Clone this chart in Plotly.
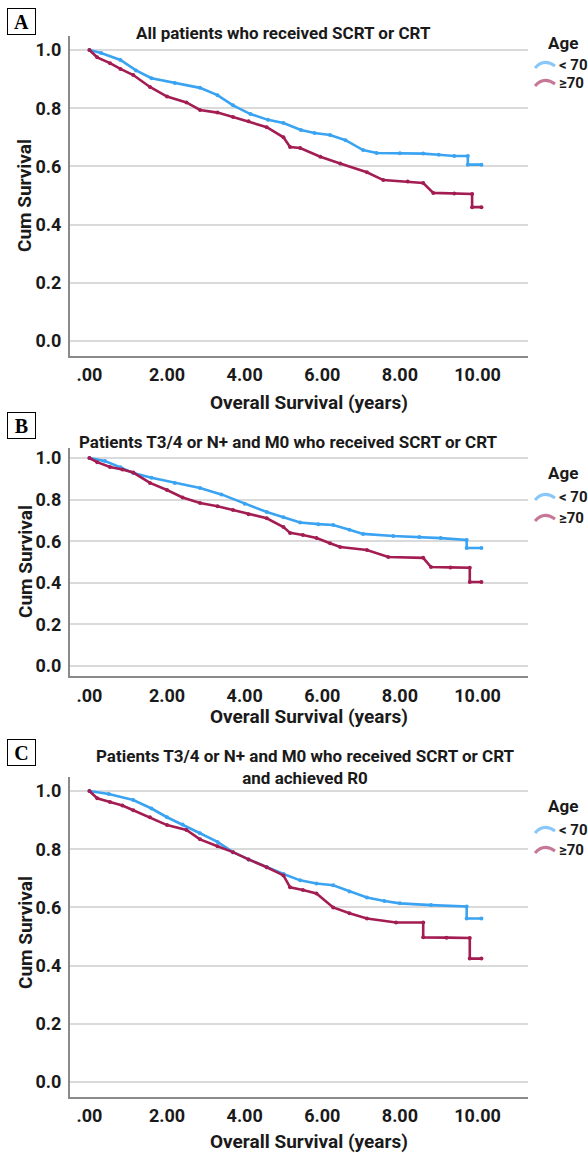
import plotly.graph_objects as go

# ---------------- data ----------------
years_tick_vals = [0, 2, 4, 6, 8, 10]
years_tick_text = [".00", "2.00", "4.00", "6.00", "8.00", "10.00"]
surv_tick_vals = [0.0, 0.2, 0.4, 0.6, 0.8, 1.0]
surv_tick_text = ["0.0", "0.2", "0.4", "0.6", "0.8", "1.0"]
group_names = ["< 70", "\u226570"]
panel_letters = ["A", "B", "C"]
panel_titles = [
    "All patients who received SCRT or CRT",
    "Patients T3/4 or N+ and M0 who received SCRT or CRT",
    "Patients T3/4 or N+ and M0 who received SCRT or CRT<br>and achieved R0",
]

# Panel A
a_young_t = [0, 0.3, 0.8, 1.2, 1.6, 2.2, 2.85, 3.3, 3.7, 4.15, 4.6, 5.0, 5.45, 5.8, 6.2, 6.6, 7.05, 7.4, 8.0, 8.6, 9.0, 9.4, 9.75, 9.75, 10.1]
a_young_s = [1.0, 0.99, 0.966, 0.93, 0.903, 0.887, 0.87, 0.845, 0.81, 0.78, 0.76, 0.749, 0.725, 0.715, 0.708, 0.69, 0.656, 0.646, 0.645, 0.644, 0.64, 0.636, 0.636, 0.606, 0.606]
a_old_t = [0, 0.2, 0.53, 0.8, 1.13, 1.56, 2.0, 2.5, 2.85, 3.3, 3.7, 4.1, 4.57, 5.0, 5.17, 5.43, 5.95, 6.46, 7.15, 7.57, 8.2, 8.6, 8.86, 9.4, 9.86, 9.86, 10.1]
a_old_s = [1.0, 0.975, 0.955, 0.935, 0.914, 0.873, 0.84, 0.82, 0.794, 0.785, 0.77, 0.755, 0.735, 0.70, 0.667, 0.663, 0.633, 0.61, 0.58, 0.553, 0.548, 0.543, 0.509, 0.507, 0.505, 0.46, 0.46]

# Panel B
b_young_t = [0, 0.4, 0.8, 1.13, 1.6, 2.2, 2.85, 3.4, 4.0, 4.57, 5.0, 5.43, 5.9, 6.28, 6.7, 7.05, 7.83, 8.5, 9.05, 9.72, 9.72, 10.1]
b_young_s = [1.0, 0.985, 0.955, 0.928, 0.905, 0.88, 0.856, 0.825, 0.78, 0.74, 0.715, 0.69, 0.682, 0.678, 0.655, 0.635, 0.625, 0.62, 0.615, 0.606, 0.567, 0.567]
b_old_t = [0, 0.2, 0.53, 0.85, 1.13, 1.56, 2.0, 2.4, 2.85, 3.3, 3.7, 4.1, 4.57, 5.0, 5.17, 5.5, 5.85, 6.2, 6.46, 7.15, 7.7, 8.6, 8.8, 9.3, 9.8, 9.8, 10.1]
b_old_s = [1.0, 0.98, 0.957, 0.945, 0.93, 0.88, 0.846, 0.81, 0.784, 0.768, 0.75, 0.73, 0.71, 0.668, 0.64, 0.63, 0.615, 0.59, 0.572, 0.558, 0.524, 0.52, 0.476, 0.474, 0.472, 0.404, 0.404]

# Panel C
c_young_t = [0, 0.5, 1.13, 1.6, 2.0, 2.4, 2.85, 3.3, 3.7, 4.1, 4.57, 5.0, 5.43, 5.85, 6.28, 6.7, 7.15, 7.6, 8.0, 8.8, 9.72, 9.72, 10.1]
c_young_s = [1.0, 0.99, 0.969, 0.94, 0.91, 0.885, 0.855, 0.825, 0.79, 0.765, 0.738, 0.715, 0.693, 0.682, 0.676, 0.655, 0.634, 0.622, 0.614, 0.608, 0.603, 0.562, 0.562]
c_old_t = [0, 0.2, 0.53, 0.85, 1.13, 1.56, 2.0, 2.5, 2.85, 3.3, 3.7, 4.1, 4.57, 5.0, 5.17, 5.5, 5.85, 6.28, 6.7, 7.15, 7.9, 8.6, 8.6, 9.2, 9.8, 9.8, 10.1]
c_old_s = [1.0, 0.975, 0.962, 0.95, 0.934, 0.91, 0.883, 0.866, 0.834, 0.81, 0.79, 0.765, 0.738, 0.71, 0.669, 0.66, 0.648, 0.60, 0.58, 0.562, 0.548, 0.548, 0.497, 0.496, 0.495, 0.424, 0.424]

# ---------------- styling / layout ----------------
W, H = 588, 1153
FONT = "Roboto, Liberation Sans, sans-serif"
SERIF = "Liberation Serif, DejaVu Serif, serif"
BLUE = "#3aa3f2"
RED = "#a31d52"
TXT = "#1a1a1a"


def pxx(p):
    return p / W


def pyy(p):
    return 1 - p / H


panels_px = [(35.5, 355.5), (447.6, 676.4), (776.5, 1096.5)]
x_left_px, x_right_px = 70, 528

curves = [
    ((a_young_t, a_young_s), (a_old_t, a_old_s)),
    ((b_young_t, b_young_s), (b_old_t, b_old_s)),
    ((c_young_t, c_young_s), (c_old_t, c_old_s)),
]

fig = go.Figure()
layout = dict(
    width=W, height=H, margin=dict(l=0, r=0, t=0, b=0),
    paper_bgcolor="white", plot_bgcolor="white", showlegend=False,
    annotations=[], shapes=[],
)

for i, ((yt, ys), (ot, os_)) in enumerate(curves):
    n = "" if i == 0 else str(i + 1)
    xa, ya = "x" + n, "y" + n
    for (t, s), col, name in (((yt, ys), BLUE, group_names[0]), ((ot, os_), RED, group_names[1])):
        fig.add_trace(go.Scatter(
            x=t, y=s, mode="lines+markers", name=name, xaxis=xa, yaxis=ya,
            line=dict(color=col, width=2.6),
            marker=dict(color=col, size=4, symbol="circle"),
        ))
    top, bot = panels_px[i]
    layout["xaxis" + n] = dict(
        domain=[pxx(x_left_px), pxx(x_right_px)], anchor=ya, range=[-0.5, 11.3],
        tickvals=years_tick_vals, ticktext=years_tick_text, showgrid=False,
        showline=True, linecolor="#8a8a8a", linewidth=2, zeroline=False,
        ticks="", ticklabelstandoff=2,
        tickfont=dict(family=FONT, size=18, color=TXT, weight="bold"),
    )
    layout["yaxis" + n] = dict(
        domain=[pyy(bot), pyy(top)], anchor=xa, range=[-0.05, 1.05],
        tickvals=surv_tick_vals, ticktext=surv_tick_text, showgrid=True,
        gridcolor="#dadada", gridwidth=1.5, showline=True, linecolor="#8a8a8a",
        linewidth=2, zeroline=False, ticks="", ticklabelstandoff=3,
        tickfont=dict(family=FONT, size=18, color=TXT, weight="bold"),
    )

# panel letters
for letter, yc in zip(panel_letters, [21.5, 425, 752]):
    layout["annotations"].append(dict(
        text="<b>" + letter + "</b>", x=pxx(21.5), y=pyy(yc), xref="paper", yref="paper",
        xanchor="center", yanchor="middle", showarrow=False,
        font=dict(family=SERIF, size=20, color="black"),
        bordercolor="black", borderwidth=1, borderpad=1, bgcolor="white",
        width=25, height=23,
    ))

# panel titles
for title, (xc, yc) in zip(panel_titles, [(283, 33), (288, 442), (305, 767)]):
    layout["annotations"].append(dict(
        text=title, x=pxx(xc), y=pyy(yc), xref="paper", yref="paper", showarrow=False,
        font=dict(family=FONT, size=17, color=TXT, weight="bold"), align="center",
        xanchor="center", yanchor="middle",
    ))

# axis titles
for yc in [402, 716, 1141]:
    layout["annotations"].append(dict(
        text="Overall Survival (years)", x=pxx(309), y=pyy(yc), xref="paper", yref="paper",
        xanchor="center", yanchor="middle", showarrow=False,
        font=dict(family=FONT, size=19, color=TXT, weight="bold"),
    ))
for yc in [196, 562, 933]:
    layout["annotations"].append(dict(
        text="Cum Survival", x=pxx(25), y=pyy(yc), xref="paper", yref="paper",
        xanchor="center", yanchor="middle", showarrow=False, textangle=-90,
        font=dict(family=FONT, size=19, color=TXT, weight="bold"),
    ))

# legends (manual, one per panel)
legend_pos = [(43, 65, 83), (473, 497, 518), (806, 830, 850)]
for (ya_, y1, y2) in legend_pos:
    layout["annotations"].append(dict(
        text="Age", x=pxx(546), y=pyy(ya_), xref="paper", yref="paper", showarrow=False,
        xanchor="left", yanchor="middle",
        font=dict(family=FONT, size=17, color=TXT, weight="bold"),
    ))
    for name, yy, col in ((group_names[0], y1, BLUE), (group_names[1], y2, RED)):
        layout["annotations"].append(dict(
            text=name, x=pxx(557), y=pyy(yy), xref="paper", yref="paper", showarrow=False,
            xanchor="left", yanchor="middle",
            font=dict(family=FONT, size=15, color=TXT, weight="bold"),
        ))
        path = "M {:.4f},{:.4f} C {:.4f},{:.4f} {:.4f},{:.4f} {:.4f},{:.4f}".format(
            pxx(535), pyy(yy + 3), pxx(541), pyy(yy - 4), pxx(548), pyy(yy - 4), pxx(555), pyy(yy + 1))
        layout["shapes"].append(dict(
            type="path", path=path, xref="paper", yref="paper",
            line=dict(color=col, width=3), opacity=0.6,
        ))

fig.update_layout(**layout)
fig.write_html("out.html", config={"displayModeBar": False},
               post_script="document.body.style.margin='0';")
